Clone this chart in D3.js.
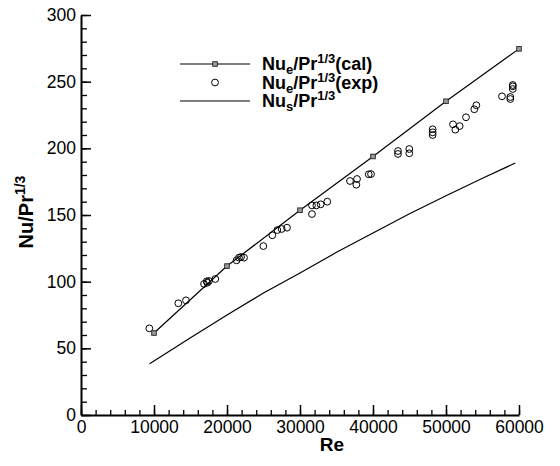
<!DOCTYPE html>
<html>
<head>
<meta charset="utf-8">
<script src="https://cdn.jsdelivr.net/npm/d3@7"></script>
<style>
  body { margin: 0; background: white; }
  text { font-family: "Liberation Sans", Arial, Helvetica, sans-serif; }
</style>
</head>
<body>
<div id="chart"></div>
<script>
// calculated Nu_e/Pr^1/3 (line with square markers)
let calRe = [10000, 20000, 30000, 40000, 50000, 60000]
let calNu = [61.5, 111.7, 153.6, 193.9, 235.3, 274.6]

// experimental Nu_e/Pr^1/3 (open circles)
let expRe = [9360, 13330, 14380, 16850, 17220, 17530, 17300, 18400,
  21320, 21640, 21920, 22330, 24980, 26210, 26900, 27490, 28220,
  31640, 31640, 32240, 32830, 33740, 36850, 37810, 37720, 39410, 39730,
  43420, 43420, 44970, 44970, 48170, 48170, 48170, 50960, 51280, 51870,
  52740, 53880, 54160, 57670, 58810, 58810, 59150, 59150, 59150]
let expNu = [65, 83.8, 86, 98.3, 100.3, 100.5, 99.2, 102,
  116, 118, 118.5, 118, 126.7, 134.8, 138.7, 139.5, 140.5,
  157.2, 150.7, 157.2, 158, 160, 175.5, 177, 172.7, 180.5, 180.7,
  198, 195.8, 199.5, 196.3, 214.3, 212, 210, 218, 214, 216.7,
  223.3, 229.3, 232.3, 239, 238.5, 237, 247.5, 246.5, 244.5]

// Nu_s/Pr^1/3 (plain line)
let nusRe = [9400, 15000, 20000, 25000, 30000, 35000, 40000, 45000, 50000, 55000, 59500]
let nusNu = [38.5, 58, 75, 91.5, 106.5, 122, 136.5, 151, 164.5, 177.5, 189]

let xTicks = [0, 10000, 20000, 30000, 40000, 50000, 60000]
let yTicks = [0, 50, 100, 150, 200, 250, 300]

let width = 560
let height = 466

let x = d3.scaleLinear().domain([0, 60000]).range([81, 519])
let y = d3.scaleLinear().domain([0, 300]).range([415, 15])

let svg = d3.select("#chart").append("svg")
  .attr("width", width)
  .attr("height", height)

// minor ticks first, then major axes on top
svg.append("g")
  .attr("transform", "translate(0," + y(0) + ")")
  .call(d3.axisBottom(x).tickValues(d3.range(0, 60001, 2000)).tickSize(-5).tickSizeOuter(0).tickFormat(""))
  .call(g => g.select(".domain").remove())
  .selectAll("line").attr("stroke-width", 1.3)

svg.append("g")
  .attr("transform", "translate(" + x(0) + ",0)")
  .call(d3.axisLeft(y).tickValues(d3.range(0, 301, 10)).tickSize(-6).tickSizeOuter(0).tickFormat(""))
  .call(g => g.select(".domain").remove())
  .selectAll("line").attr("stroke-width", 1.3)

let xAxis = svg.append("g")
  .attr("transform", "translate(0," + y(0) + ")")
  .call(d3.axisBottom(x).tickValues(xTicks).tickSize(-10).tickSizeOuter(0).tickPadding(6).tickFormat(d3.format("d")))
xAxis.select(".domain").attr("stroke-width", 2)
xAxis.selectAll(".tick line").attr("stroke-width", 1.5)
xAxis.selectAll("text").attr("font-size", "17.5px").attr("fill", "black")

let yAxis = svg.append("g")
  .attr("transform", "translate(" + x(0) + ",0)")
  .call(d3.axisLeft(y).tickValues(yTicks).tickSize(-10).tickSizeOuter(0).tickPadding(5).tickFormat(d3.format("d")))
yAxis.select(".domain").attr("stroke-width", 2)
yAxis.selectAll(".tick line").attr("stroke-width", 1.5)
yAxis.selectAll("text").attr("font-size", "17.5px").attr("fill", "black")

// axis titles
svg.append("text")
  .attr("x", 332)
  .attr("y", 451)
  .attr("text-anchor", "middle")
  .attr("font-size", "19px")
  .attr("font-weight", "bold")
  .text("Re")

let ylab = svg.append("text")
  .attr("transform", "translate(33,212) rotate(-90)")
  .attr("text-anchor", "middle")
  .attr("font-size", "20px")
  .attr("font-weight", "bold")
ylab.append("tspan").text("Nu/Pr")
ylab.append("tspan").attr("dy", -8).attr("font-size", "14px").text("1/3")

// lines
let line = d3.line().x(d => x(d[0])).y(d => y(d[1]))

svg.append("path")
  .datum(nusRe.map((r, i) => [r, nusNu[i]]))
  .attr("d", line)
  .attr("fill", "none")
  .attr("stroke", "black")
  .attr("stroke-width", 1.2)

svg.append("path")
  .datum(calRe.map((r, i) => [r, calNu[i]]))
  .attr("d", line)
  .attr("fill", "none")
  .attr("stroke", "black")
  .attr("stroke-width", 1.2)

svg.selectAll(".exp")
  .data(expRe.map((r, i) => [r, expNu[i]]))
  .enter().append("circle")
  .attr("class", "exp")
  .attr("cx", d => x(d[0]))
  .attr("cy", d => y(d[1]))
  .attr("r", 3.4)
  .attr("fill", "none")
  .attr("stroke", "black")
  .attr("stroke-width", 1)

let sq = 4.6
svg.selectAll(".cal")
  .data(calRe.map((r, i) => [r, calNu[i]]))
  .enter().append("rect")
  .attr("class", "cal")
  .attr("x", d => x(d[0]) - sq / 2)
  .attr("y", d => y(d[1]) - sq / 2)
  .attr("width", sq)
  .attr("height", sq)
  .attr("fill", "#999")
  .attr("stroke", "#222")
  .attr("stroke-width", 0.9)

// legend
let legend = svg.append("g")
let rows = [64, 82.5, 101]

legend.append("line").attr("x1", 180).attr("x2", 250).attr("y1", rows[0]).attr("y2", rows[0])
  .attr("stroke", "black").attr("stroke-width", 1.2)
legend.append("rect").attr("x", 215 - sq / 2).attr("y", rows[0] - sq / 2).attr("width", sq).attr("height", sq)
  .attr("fill", "#999").attr("stroke", "#222").attr("stroke-width", 0.9)
legend.append("circle").attr("cx", 215).attr("cy", rows[1]).attr("r", 3.4)
  .attr("fill", "none").attr("stroke", "black")
legend.append("line").attr("x1", 180).attr("x2", 250).attr("y1", rows[2]).attr("y2", rows[2])
  .attr("stroke", "black").attr("stroke-width", 1.2)

let labels = [["e", "(cal)"], ["e", "(exp)"], ["s", ""]]
labels.forEach((l, i) => {
  let t = legend.append("text")
    .attr("x", 262)
    .attr("y", rows[i] + 6)
    .attr("font-size", "18px")
    .attr("font-weight", "bold")
  t.append("tspan").text("Nu")
  t.append("tspan").attr("dy", 4).attr("font-size", "13px").text(l[0])
  t.append("tspan").attr("dy", -4).text("/Pr")
  t.append("tspan").attr("dy", -7).attr("font-size", "13px").text("1/3")
  t.append("tspan").attr("dy", 7).text(l[1])
})
</script>
</body>
</html>
